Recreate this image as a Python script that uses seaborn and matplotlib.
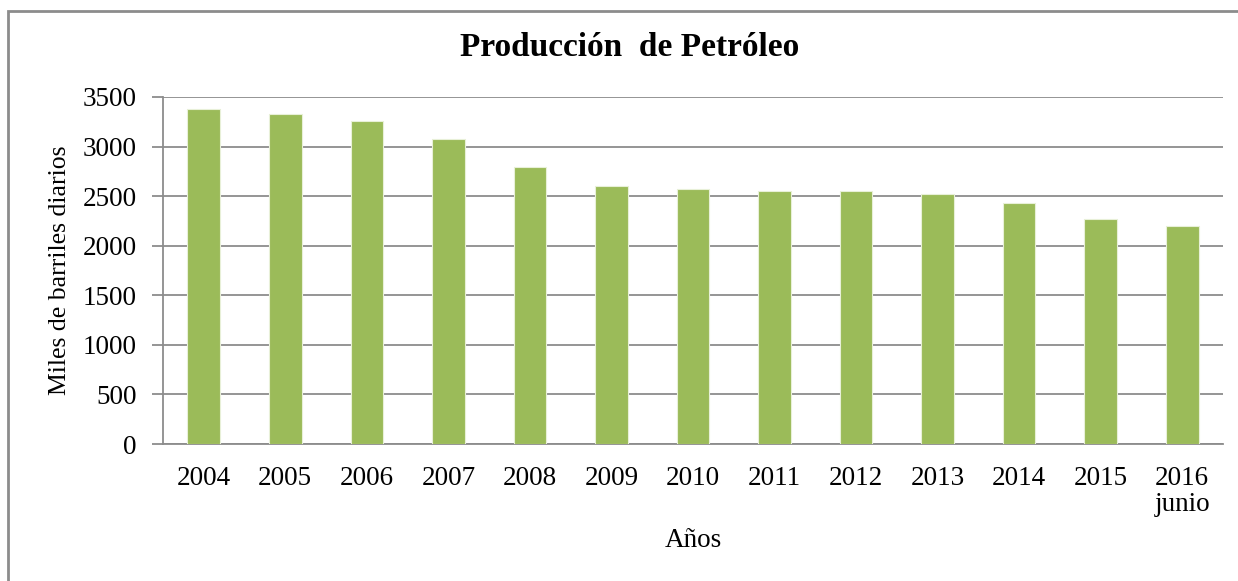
import matplotlib
matplotlib.use("Agg")
import matplotlib.pyplot as plt
import pandas as pd
import seaborn as sns
from matplotlib.patches import Rectangle

years = ["2004", "2005", "2006", "2007", "2008", "2009", "2010",
         "2011", "2012", "2013", "2014", "2015", "2016\njunio"]
production = [3380, 3330, 3258, 3073, 2797, 2599, 2575,
              2549, 2549, 2525, 2428, 2266, 2202]
y_ticks = [0, 500, 1000, 1500, 2000, 2500, 3000, 3500]

df = pd.DataFrame({"year": years, "prod": production})

sns.set_theme(style="white")
plt.rcParams["font.family"] = ["Liberation Serif", "DejaVu Serif"]
plt.rcParams["text.color"] = "black"
plt.rcParams["axes.labelcolor"] = "black"
plt.rcParams["xtick.labelcolor"] = "black"
plt.rcParams["ytick.labelcolor"] = "black"

fig = plt.figure(figsize=(12.38, 5.81), dpi=100)
ax = fig.add_axes([163 / 1238, 1 - 444 / 581, 1060 / 1238, 347 / 581])

sns.barplot(data=df, x="year", y="prod", color="#9BBB59", saturation=1,
            width=0.4, edgecolor="#e8f0d8", linewidth=0.8, ax=ax, zorder=3)

ax.set_xlim(-0.5, len(years) - 0.5)
ax.set_ylim(0, 3500)
ax.set_yticks(y_ticks)
ax.yaxis.grid(True, color="#8c8c8c", linewidth=1.3, zorder=0)
ax.set_axisbelow(True)

for side in ["top", "right"]:
    ax.spines[side].set_visible(False)
for side in ["left", "bottom"]:
    ax.spines[side].set_color("#8c8c8c")
    ax.spines[side].set_linewidth(1.3)

ax.tick_params(axis="y", which="both", left=True, length=8, width=1.3,
               color="#8c8c8c", labelcolor="black", labelsize=19.5, pad=11)
ax.tick_params(axis="x", bottom=False, labelcolor="black", labelsize=19.5, pad=10)
for lbl in ax.get_xticklabels():
    lbl.set_linespacing(1.05)

ax.set_xlabel("Años", fontsize=19.5, labelpad=8, color="black")
ax.set_ylabel("Miles de barriles diarios", fontsize=18.5, labelpad=8, color="black")

fig.text(630 / 1238, 1 - 48 / 581, "Producción  de Petróleo", color="black",
         ha="center", va="center", fontsize=24, fontweight="bold")

# chart frame (cropped at right and bottom)
fig.patches.append(Rectangle((8 / 1238, -0.05), 1.1, 1.05 - 11 / 581,
                             transform=fig.transFigure, fill=False,
                             edgecolor="#8c8c8c", linewidth=2))

fig.savefig("out.png", dpi=100)
